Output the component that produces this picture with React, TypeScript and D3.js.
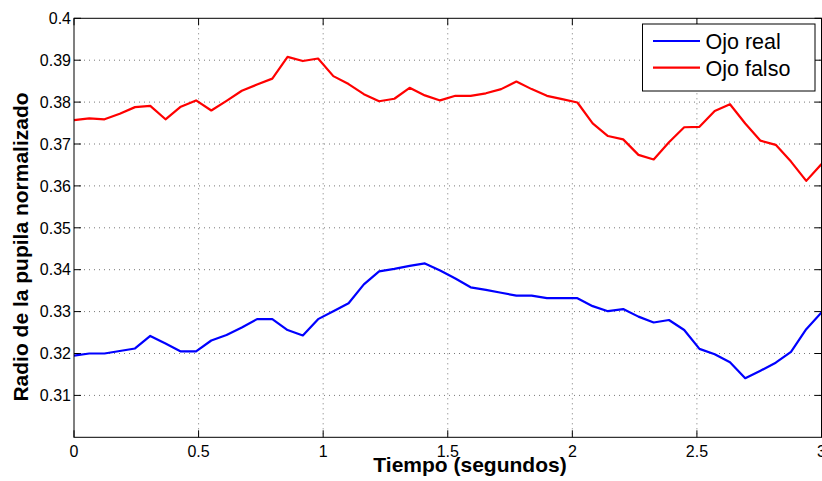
import React from 'react';
import * as d3 from 'd3';

// tiempo de cada muestra (s)
const tiempo = [
  0, 0.0612, 0.1224, 0.1837, 0.2449, 0.3061, 0.3673, 0.4286, 0.4898, 0.551,
  0.6122, 0.6735, 0.7347, 0.7959, 0.8571, 0.9184, 0.9796, 1.0408, 1.102, 1.1633,
  1.2245, 1.2857, 1.3469, 1.4082, 1.4694, 1.5306, 1.5918, 1.6531, 1.7143, 1.7755,
  1.8367, 1.898, 1.9592, 2.0204, 2.0816, 2.1429, 2.2041, 2.2653, 2.3265, 2.3878,
  2.449, 2.5102, 2.5714, 2.6327, 2.6939, 2.7551, 2.8163, 2.8776, 2.9388, 3.0,
];

const ojoReal = [
  0.3195, 0.32, 0.32, 0.3206, 0.3212, 0.3242, 0.3224, 0.3205, 0.3205, 0.3231,
  0.3244, 0.3262, 0.3282, 0.3282, 0.3256, 0.3243, 0.3282, 0.3301, 0.332, 0.3365,
  0.3396, 0.3402, 0.3409, 0.3415, 0.3398, 0.3379, 0.3358, 0.3352, 0.3345, 0.3338,
  0.3338, 0.3332, 0.3332, 0.3332, 0.3313, 0.3301, 0.3306, 0.3288, 0.3274, 0.328,
  0.3256, 0.3211, 0.3198, 0.3179, 0.3141, 0.3159, 0.3178, 0.3204, 0.3258, 0.3298,
];

const ojoFalso = [
  0.3757, 0.3761, 0.3759, 0.3772, 0.3788, 0.3791, 0.3759, 0.3789, 0.3804, 0.378,
  0.3803, 0.3827, 0.3842, 0.3856, 0.3908, 0.3898, 0.3904, 0.3862, 0.3843, 0.3819,
  0.3802, 0.3808, 0.3834, 0.3816, 0.3804, 0.3815, 0.3815, 0.3821, 0.3831, 0.3849,
  0.3831, 0.3815, 0.3807, 0.3799, 0.3749, 0.3719, 0.3711, 0.3674, 0.3663, 0.3704,
  0.374, 0.3741, 0.3779, 0.3795, 0.3749, 0.3708, 0.3698, 0.3658, 0.3612, 0.3652,
];

const xTicks = [0, 0.5, 1, 1.5, 2, 2.5, 3];
const xTickLabels = ['0', '0.5', '1', '1.5', '2', '2.5', '3'];
const yTicks = [0.31, 0.32, 0.33, 0.34, 0.35, 0.36, 0.37, 0.38, 0.39, 0.4];
const yTickLabels = ['0.31', '0.32', '0.33', '0.34', '0.35', '0.36', '0.37', '0.38', '0.39', '0.4'];
const seriesNames = ['Ojo real', 'Ojo falso'];
const seriesColors = ['#0000ff', '#ff0000'];

const W = 822;
const H = 481;
const left = 74;
const right = 821.5;
const top = 18.3;
const bottom = 437.3;
const tickLen = 7;
const font = '"Liberation Sans", Arial, Helvetica, sans-serif';

const App: React.FC = () => {
  const x = d3.scaleLinear().domain([0, 3]).range([left, right]);
  const y = d3.scaleLinear().domain([0.3, 0.4]).range([bottom, top]);

  const line = d3.line<number>()
    .x((_, i) => x(tiempo[i]))
    .y(d => y(d));

  const series = [ojoReal, ojoFalso];

  return (
    <svg width={W} height={H} style={{ position: 'absolute', left: 0, top: 0 }} fontFamily={font}>
      <rect x={0} y={0} width={W} height={H} fill="#fff" />

      {/* rejilla */}
      {xTicks.filter(t => t > 0 && t < 3).map(t => (
        <line key={'gx' + t} x1={x(t)} x2={x(t)} y1={top} y2={bottom}
          stroke="#777" strokeWidth={1} strokeDasharray="1,4" />
      ))}
      {yTicks.filter(t => t < 0.4).map(t => (
        <line key={'gy' + t} x1={left} x2={right} y1={y(t)} y2={y(t)}
          stroke="#777" strokeWidth={1} strokeDasharray="1,4" />
      ))}

      {/* marcas */}
      {xTicks.map(t => (
        <g key={'tx' + t} stroke="#000" strokeWidth={1}>
          <line x1={x(t)} x2={x(t)} y1={bottom} y2={bottom - tickLen} />
          <line x1={x(t)} x2={x(t)} y1={top} y2={top + tickLen} />
        </g>
      ))}
      {yTicks.map(t => (
        <g key={'ty' + t} stroke="#000" strokeWidth={1}>
          <line x1={left} x2={left + tickLen} y1={y(t)} y2={y(t)} />
          <line x1={right} x2={right - tickLen} y1={y(t)} y2={y(t)} />
        </g>
      ))}

      {series.map((s, k) => (
        <path key={k} d={line(s) || ''} fill="none" stroke={seriesColors[k]}
          strokeWidth={2.2} strokeLinejoin="round" />
      ))}

      <rect x={left} y={top} width={right - left} height={bottom - top}
        fill="none" stroke="#000" strokeWidth={1} />

      {xTicks.map((t, i) => (
        <text key={'lx' + t} x={x(t)} y={457} textAnchor="middle" fontSize={16}>{xTickLabels[i]}</text>
      ))}
      {yTicks.map((t, i) => (
        <text key={'ly' + t} x={left - 3} y={y(t)} dy="0.36em" textAnchor="end" fontSize={16}>{yTickLabels[i]}</text>
      ))}

      <text x={470} y={472} textAnchor="middle" fontSize={21} fontWeight="bold">Tiempo (segundos)</text>
      <text transform="translate(28,247) rotate(-90)" textAnchor="middle" fontSize={21} fontWeight="bold">
        Radio de la pupila normalizado
      </text>

      {/* leyenda */}
      <g>
        <rect x={642.5} y={24} width={172.5} height={67} fill="#fff" stroke="#000" strokeWidth={1} />
        {seriesNames.map((n, k) => (
          <g key={n}>
            <line x1={653} x2={700} y1={41 + k * 26.7} y2={41 + k * 26.7}
              stroke={seriesColors[k]} strokeWidth={2.2} />
            <text x={705.5} y={49.3 + k * 26.7} fontSize={21.5}>{n}</text>
          </g>
        ))}
      </g>
    </svg>
  );
};

export default App;
